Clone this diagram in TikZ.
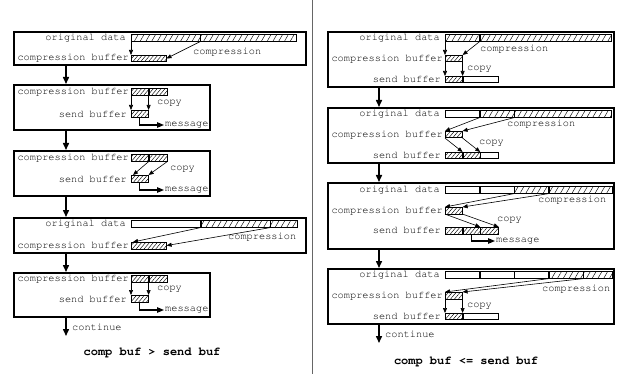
\documentclass[tikz,border=0pt]{standalone}
\usepackage[T1]{fontenc}
\usepackage{courier}
\usepackage{tikz}
\usetikzlibrary{arrows.meta,positioning,patterns.meta}

\begin{document}
\begin{tikzpicture}[
  x=1pt,
  y=-1pt,
  panel/.style={draw, line width=1.6pt, inner sep=0pt, anchor=north west},
  seg/.style={draw, line width=0.6pt, inner sep=0pt, anchor=north west, minimum height=7pt},
  sparse/.style={pattern={Lines[angle=60,distance=5pt,line width=0.45pt]}},
  dense/.style={pattern={Lines[angle=50,distance=3pt,line width=0.45pt]}},
  rowlabel/.style={font=\ttfamily\fontsize{10.3pt}{12pt}\selectfont, anchor=east, inner sep=0pt},
  note/.style={font=\ttfamily\fontsize{10.3pt}{12pt}\selectfont, anchor=west, inner sep=1pt},
  title/.style={font=\ttfamily\bfseries\fontsize{12pt}{14pt}\selectfont},
  flow/.style={line width=1.5pt, -{Triangle[length=7pt,width=6pt]}},
  move/.style={line width=0.6pt, -{Triangle[length=5pt,width=4pt]}},
  send/.style={line width=1.1pt, -{Triangle[length=7pt,width=5.5pt]}},
  sep/.style={line width=0.8pt, black!60}
]
\useasboundingbox (0,0) rectangle (618,374);

\node[panel, minimum width=292pt, minimum height=33pt] (pl1) at (13,31) {};
\node[seg, sparse, minimum width=69pt] (l1o1) at (131,34) {};
\node[seg, sparse, minimum width=96pt] (l1o2) at (l1o1.north east) {};
\node[seg, dense, minimum width=35pt, minimum height=6.5pt] (l1c) at (131,55) {};
\node[rowlabel] (l1on) at ([xshift=-5pt]l1o1.west) {original data};
\node[rowlabel] (l1cn) at ([xshift=-2pt]l1c.west) {compression buffer};
\draw[move] (l1o1.south west) -- (l1c.north west);
\draw[move] (l1o1.south east) -- (l1c.east);
\node[note] (l1cmp) at (192,52) {compression};

\node[panel, minimum width=196pt, minimum height=45pt] (pl2) at (13,84) {};
\node[seg, dense, minimum width=17pt] (l2c1) at (131,88) {};
\node[seg, dense, minimum width=18pt] (l2c2) at (l2c1.north east) {};
\node[seg, dense, minimum width=17pt] (l2s) at (131,110) {};
\node[rowlabel] (l2cn) at ([xshift=-2pt]l2c1.west) {compression buffer};
\node[rowlabel] (l2sn) at ([xshift=-4pt]l2s.west) {send buffer};
\draw[move] (l2c1.south west) -- (l2s.north west);
\draw[move] (l2c1.south east) -- (l2s.north east);
\node[note] (l2cp) at (156,103) {copy};
\node[note] (l2m) at (164,125) {message};
\draw[send] (l2s.south) |- (l2m.west);

\node[panel, minimum width=196pt, minimum height=45pt] (pl3) at (13,150) {};
\node[seg, dense, minimum width=17pt] (l3c1) at (131,154) {};
\node[seg, dense, minimum width=18pt] (l3c2) at (l3c1.north east) {};
\node[seg, dense, minimum width=17pt] (l3s) at (131,175) {};
\node[rowlabel] (l3cn) at ([xshift=-2pt]l3c1.west) {compression buffer};
\node[rowlabel] (l3sn) at ([xshift=-4pt]l3s.west) {send buffer};
\draw[move] (l3c1.south east) -- ([xshift=2pt]l3s.north west);
\draw[move] (l3c2.south east) -- (l3s.north east);
\node[note] (l3cp) at (169,169) {copy};
\node[note] (l3m) at (164,190) {message};
\draw[send] (l3s.south) |- (l3m.west);

\node[panel, minimum width=292pt, minimum height=35pt] (pl4) at (13,217) {};
\node[seg, minimum width=69pt] (l4o1) at (131,220) {};
\node[seg, sparse, minimum width=69pt] (l4o2) at (l4o1.north east) {};
\node[seg, sparse, minimum width=27pt] (l4o3) at (l4o2.north east) {};
\node[seg, dense, minimum width=35pt, minimum height=6.5pt] (l4c) at (131,242) {};
\node[rowlabel] (l4on) at ([xshift=-5pt]l4o1.west) {original data};
\node[rowlabel] (l4cn) at ([xshift=-2pt]l4c.west) {compression buffer};
\draw[move] (l4o2.south west) -- ([xshift=2pt]l4c.north west);
\draw[move] (l4o3.south west) -- (l4c.east);
\node[note] (l4cmp) at (227,237) {compression};

\node[panel, minimum width=196pt, minimum height=44pt] (pl5) at (13,272) {};
\node[seg, dense, minimum width=17pt] (l5c1) at (131,275) {};
\node[seg, dense, minimum width=18pt] (l5c2) at (l5c1.north east) {};
\node[seg, dense, minimum width=17pt] (l5s) at (131,295) {};
\node[rowlabel] (l5cn) at ([xshift=-2pt]l5c1.west) {compression buffer};
\node[rowlabel] (l5sn) at ([xshift=-4pt]l5s.west) {send buffer};
\draw[move] (l5c1.south west) -- (l5s.north west);
\draw[move] (l5c1.south east) -- (l5s.north east);
\node[note] (l5cp) at (156,289) {copy};
\node[note] (l5m) at (164,310) {message};
\draw[send] (l5s.south) |- (l5m.west);

\draw[flow] ([xshift=53pt]pl1.south west) -- ([xshift=53pt]pl2.north west);
\draw[flow] ([xshift=53pt]pl2.south west) -- ([xshift=53pt]pl3.north west);
\draw[flow] ([xshift=53pt]pl3.south west) -- ([xshift=53pt]pl4.north west);
\draw[flow] ([xshift=53pt]pl4.south west) -- ([xshift=53pt]pl5.north west);
\coordinate (lend) at (66,336);
\draw[flow] ([xshift=53pt]pl5.south west) -- (lend);
\node[note] (lcont) at (71,327) {continue};
\node[title] (ltitle) at (152,353) {comp buf > send buf};

\draw[sep] (312,0) -- (312,374);

\node[panel, minimum width=286pt, minimum height=55pt] (pr1) at (327,31) {};
\node[seg, sparse, minimum width=34pt] (r1o1) at (445,34) {};
\node[seg, sparse, minimum width=131pt] (r1o2) at (r1o1.north east) {};
\node[seg, dense, minimum width=17pt, minimum height=6.5pt] (r1c) at (445,55) {};
\node[seg, dense, minimum width=17pt, minimum height=6pt] (r1s1) at (445,76) {};
\node[seg, minimum width=35pt, minimum height=6pt] (r1s2) at (r1s1.north east) {};
\node[rowlabel] (r1on) at ([xshift=-5pt]r1o1.west) {original data};
\node[rowlabel] (r1cn) at ([xshift=-2pt]r1c.west) {compression buffer};
\node[rowlabel] (r1sn) at ([xshift=-4pt]r1s1.west) {send buffer};
\draw[move] (r1o1.south west) -- (r1c.north west);
\draw[move] (r1o1.south east) -- (r1c.north east);
\draw[move] (r1c.south west) -- (r1s1.north west);
\draw[move] (r1c.south east) -- (r1s1.north east);
\node[note] (r1cmp) at (479,49) {compression};
\node[note] (r1cp) at (466,69) {copy};

\node[panel, minimum width=286pt, minimum height=55pt] (pr2) at (327,107) {};
\node[seg, minimum width=34pt] (r2o1) at (445,110) {};
\node[seg, sparse, minimum width=34pt] (r2o2) at (r2o1.north east) {};
\node[seg, sparse, minimum width=97pt] (r2o3) at (r2o2.north east) {};
\node[seg, dense, minimum width=17pt, minimum height=6.5pt] (r2c) at (445,131) {};
\node[seg, dense, minimum width=17pt, minimum height=6pt] (r2s1) at (445,152) {};
\node[seg, dense, minimum width=17pt, minimum height=6pt] (r2s2) at (r2s1.north east) {};
\node[seg, minimum width=18pt, minimum height=6pt] (r2s3) at (r2s2.north east) {};
\node[rowlabel] (r2on) at ([xshift=-5pt]r2o1.west) {original data};
\node[rowlabel] (r2cn) at ([xshift=-2pt]r2c.west) {compression buffer};
\node[rowlabel] (r2sn) at ([xshift=-4pt]r2s1.west) {send buffer};
\draw[move] (r2o2.south west) -- (r2c.north west);
\draw[move] (r2o3.south west) -- (r2c.north east);
\draw[move] (r2c.south west) -- (r2s2.north west);
\draw[move] (r2c.south east) -- (r2s2.north east);
\node[note] (r2cmp) at (506,124) {compression};
\node[note] (r2cp) at (478,143) {copy};

\node[panel, minimum width=286pt, minimum height=66pt] (pr3) at (327,182) {};
\node[seg, minimum width=34pt] (r3o1) at (445,186) {};
\node[seg, minimum width=34pt] (r3o2) at (r3o1.north east) {};
\node[seg, sparse, minimum width=34pt] (r3o3) at (r3o2.north east) {};
\node[seg, sparse, minimum width=63pt] (r3o4) at (r3o3.north east) {};
\node[seg, dense, minimum width=17pt, minimum height=6.5pt] (r3c) at (445,207) {};
\node[seg, dense, minimum width=17pt, minimum height=6.5pt] (r3s1) at (445,227) {};
\node[seg, dense, minimum width=17pt, minimum height=6.5pt] (r3s2) at (r3s1.north east) {};
\node[seg, dense, minimum width=18pt, minimum height=6.5pt] (r3s3) at (r3s2.north east) {};
\node[rowlabel] (r3on) at ([xshift=-5pt]r3o1.west) {original data};
\node[rowlabel] (r3cn) at ([xshift=-2pt]r3c.west) {compression buffer};
\node[rowlabel] (r3sn) at ([xshift=-4pt]r3s1.west) {send buffer};
\draw[move] (r3o3.south west) -- (r3c.north west);
\draw[move] (r3o4.south west) -- (r3c.north east);
\draw[move] (r3c.south west) -- (r3s3.north west);
\draw[move] (r3c.south east) -- (r3s3.north east);
\node[note] (r3cmp) at (537,200) {compression};
\node[note] (r3cp) at (496,220) {copy};
\node[note] (r3m) at (495,241) {message};
\draw[send] (r3s2.south) |- (r3m.west);

\node[panel, minimum width=286pt, minimum height=55pt] (pr4) at (327,268) {};
\node[seg, minimum width=34pt] (r4o1) at (445,271) {};
\node[seg, minimum width=34pt] (r4o2) at (r4o1.north east) {};
\node[seg, minimum width=34pt] (r4o3) at (r4o2.north east) {};
\node[seg, sparse, minimum width=34pt] (r4o4) at (r4o3.north east) {};
\node[seg, sparse, minimum width=29pt] (r4o5) at (r4o4.north east) {};
\node[seg, dense, minimum width=17pt, minimum height=6.5pt] (r4c) at (445,292) {};
\node[seg, dense, minimum width=17pt, minimum height=6pt] (r4s1) at (445,313) {};
\node[seg, minimum width=35pt, minimum height=6pt] (r4s2) at (r4s1.north east) {};
\node[rowlabel] (r4on) at ([xshift=-5pt]r4o1.west) {original data};
\node[rowlabel] (r4cn) at ([xshift=-2pt]r4c.west) {compression buffer};
\node[rowlabel] (r4sn) at ([xshift=-4pt]r4s1.west) {send buffer};
\draw[move] (r4o4.south west) -- (r4c.north west);
\draw[move] (r4o5.south west) -- (r4c.north east);
\draw[move] (r4c.south west) -- (r4s1.north west);
\draw[move] (r4c.south east) -- (r4s1.north east);
\node[note] (r4cmp) at (541,289) {compression};
\node[note] (r4cp) at (466,306) {copy};

\draw[flow] ([xshift=52pt]pr1.south west) -- ([xshift=52pt]pr2.north west);
\draw[flow] ([xshift=52pt]pr2.south west) -- ([xshift=52pt]pr3.north west);
\draw[flow] ([xshift=52pt]pr3.south west) -- ([xshift=52pt]pr4.north west);
\coordinate (rend) at (379,343);
\draw[flow] ([xshift=52pt]pr4.south west) -- (rend);
\node[note] (rcont) at (384,334) {continue};
\node[title] (rtitle) at (466,362) {comp buf <= send buf};
\end{tikzpicture}
\end{document}
